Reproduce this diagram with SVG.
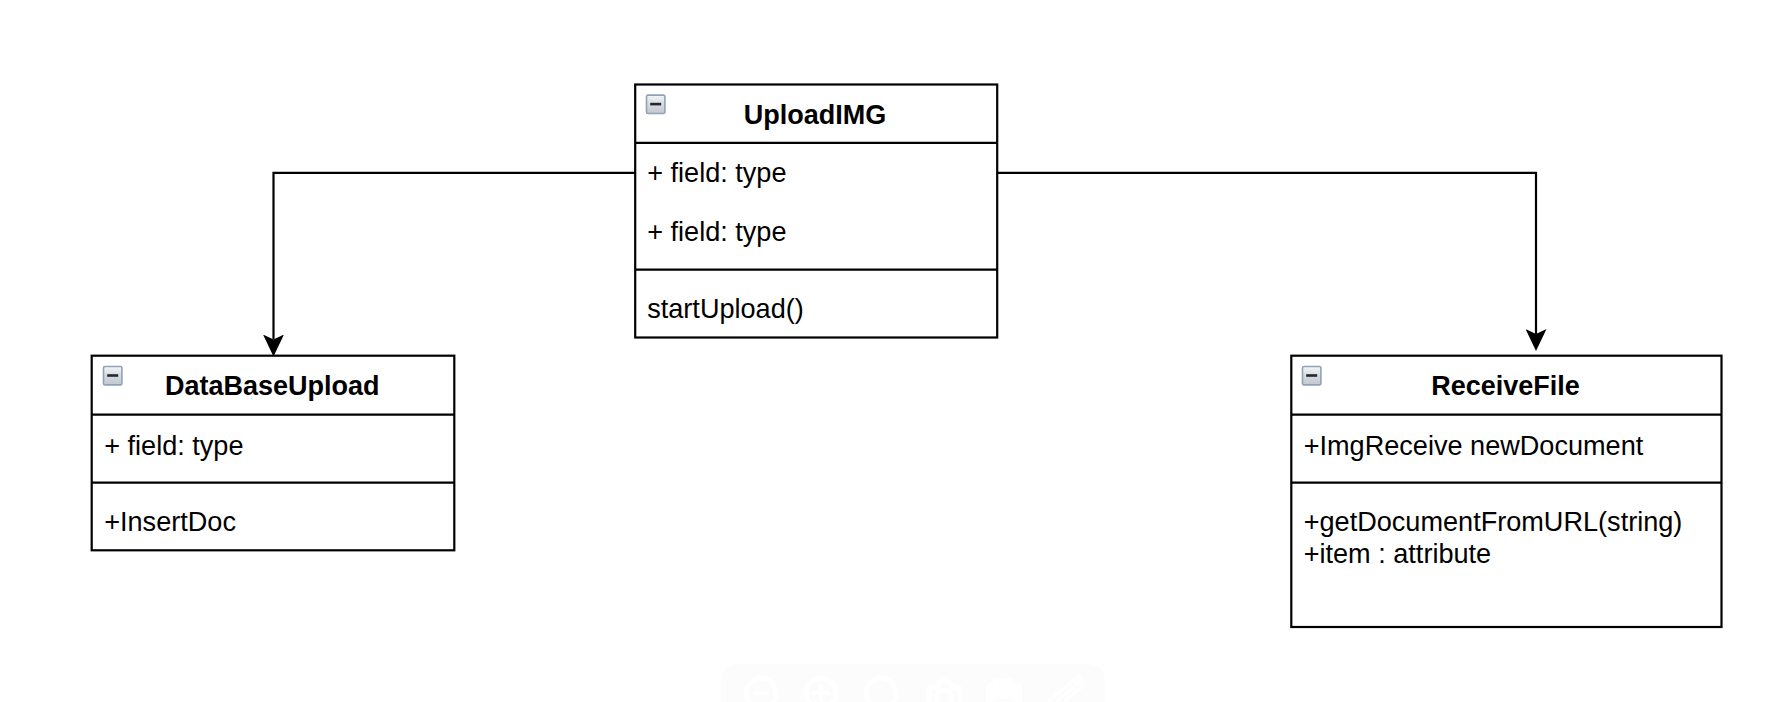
<svg xmlns="http://www.w3.org/2000/svg" width="1785" height="702" viewBox="0 0 1785 702">
<style>
.box{fill:#fff;stroke:#000;stroke-width:2.2}
.sep{fill:none;stroke:#000;stroke-width:2.2}
.conn{fill:none;stroke:#000;stroke-width:2.2}
text{font-family:"Liberation Sans",Arial,sans-serif;font-size:27.1px;fill:#000}
.title{font-weight:bold;text-anchor:middle;font-size:27px}
.tb{fill:none;stroke:#fff;stroke-width:5}
</style>
<defs>
<linearGradient id="ig" x1="0" y1="0" x2="0" y2="1">
<stop offset="0" stop-color="#f4f6f8"/><stop offset="0.55" stop-color="#d3d8de"/><stop offset="1" stop-color="#c2c8d0"/>
</linearGradient>
<marker id="arrow" markerUnits="userSpaceOnUse" markerWidth="22" markerHeight="21" viewBox="0 0 22 21" refX="5" refY="10.5" orient="auto">
<path d="M0 0L22 10.5L0 21L5 10.5Z" fill="#000"/>
</marker>
<g id="collapse">
<rect x="0.8" y="0.8" width="18.4" height="18.4" rx="1.5" fill="url(#ig)" stroke="#8fa3b8" stroke-width="1.6"/>
<rect x="4.5" y="8.5" width="11" height="2.6" fill="#26282c"/>
</g>
</defs>

<g id="toolbar">
<path d="M721 702V683Q721 664 740 664H1086Q1105 664 1105 683V702Z" fill="#fcfcfc"/>
<circle class="tb" cx="761" cy="693" r="15"/>
<rect x="753" y="691" width="16" height="4" fill="#fff"/>
<circle class="tb" cx="821" cy="693" r="15"/>
<path d="M812 693H830M821 685V701" stroke="#fff" stroke-width="4" fill="none"/>
<circle class="tb" cx="881" cy="693" r="15"/>
<path class="tb" d="M929 702V690Q929 687 933 687H937Q939 681 944 681Q950 681 952 687H956Q960 687 960 690V702"/>
<circle class="tb" cx="944" cy="698" r="8"/>
<path d="M986 702V687Q986 683 993 683V678H1014V683Q1022 683 1022 687V702Z" fill="#fff"/>
<rect x="994" y="699" width="20" height="3" fill="#fcfcfc"/>
<path d="M1048 702L1076 678M1056 702L1080 682M1064 702L1084 685" stroke="#fff" stroke-width="3.5" fill="none"/>
<path d="M1074 682L1078 677L1082 681L1078 685Z" fill="#fff" stroke="#fff" stroke-width="3"/>
</g>

<g id="connectors">
<path class="conn" d="M635 172.8H273.5V339.5" marker-end="url(#arrow)"/>
<path class="conn" d="M997 172.8H1536V334" marker-end="url(#arrow)"/>
</g>

<g id="UploadIMG">
<rect class="box" x="635.2" y="84.5" width="362" height="253"/>
<path class="sep" d="M635 142.8H997M635 269.7H997"/>
<use href="#collapse" x="645.7" y="94.3"/>
<text class="title" x="815" y="124.3">UploadIMG</text>
<text x="647.2" y="182">+ field: type</text>
<text x="647.2" y="241">+ field: type</text>
<text x="647.2" y="318">startUpload()</text>
</g>

<g id="DataBaseUpload">
<rect class="box" x="91.7" y="355.7" width="362.6" height="194.6"/>
<path class="sep" d="M91.7 414.7H454.3M91.7 482.7H454.3"/>
<use href="#collapse" x="102.7" y="365.7"/>
<text class="title" x="272.3" y="395.3">DataBaseUpload</text>
<text x="104.2" y="454.8">+ field: type</text>
<text x="104.2" y="530.8">+InsertDoc</text>
</g>

<g id="ReceiveFile">
<rect class="box" x="1291.3" y="355.7" width="430.2" height="271.3"/>
<path class="sep" d="M1291.3 414.7H1721.5M1291.3 482.7H1721.5"/>
<use href="#collapse" x="1301.7" y="365.7"/>
<text class="title" x="1505.5" y="395.3">ReceiveFile</text>
<text x="1303.7" y="454.8">+ImgReceive newDocument</text>
<text x="1303.7" y="531.3">+getDocumentFromURL(string)</text>
<text x="1303.7" y="563">+item : attribute</text>
</g>
</svg>
